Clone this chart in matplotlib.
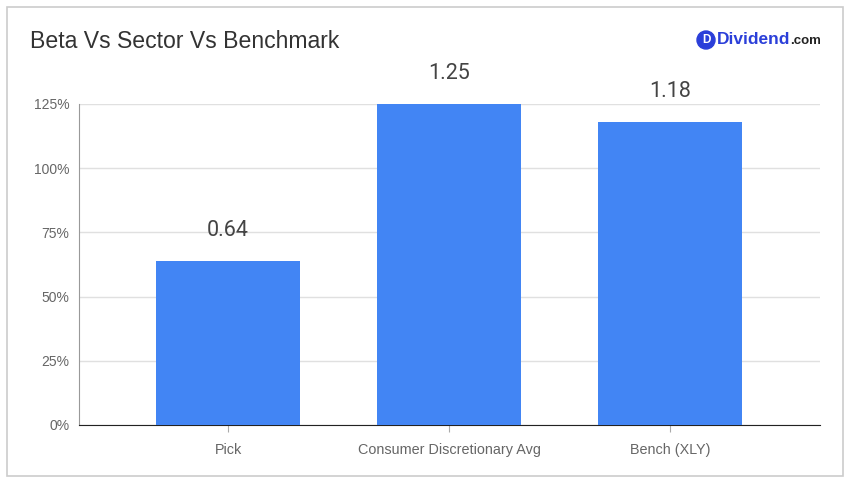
import matplotlib.pyplot as plt
from matplotlib.patches import Rectangle, Ellipse
from matplotlib.ticker import FuncFormatter

categories = ["Pick", "Consumer Discretionary Avg", "Bench (XLY)"]
beta = [0.64, 1.25, 1.18]
yticks = [0, 0.25, 0.5, 0.75, 1.0, 1.25]

plt.rcParams['font.family'] = ['Liberation Sans', 'DejaVu Sans']

fig = plt.figure(figsize=(8.51, 4.83), dpi=100)
W, H = 851, 483

# outer frame
fig.patches.append(Rectangle((7 / W, 1 - 476 / H), 836 / W, 469 / H,
                             transform=fig.transFigure, fill=False,
                             edgecolor='#cccccc', linewidth=1.2))

ax = fig.add_axes([79 / W, 1 - 425 / H, 741 / W, 321 / H])
x = range(len(categories))
ax.bar(x, beta, width=0.65, color='#4285F4', zorder=3)

for xi, v in zip(x, beta):
    ax.annotate(f"{v:.2f}", (xi, v), xytext=(0, 22), textcoords='offset points',
                ha='center', va='center', fontsize=15.5, color='#444444',
                family='Roboto', annotation_clip=False)

ax.set_xlim(-0.675, 2.68)
ax.set_ylim(0, 1.25)
ax.set_yticks(yticks)
ax.yaxis.set_major_formatter(FuncFormatter(lambda v, p: f"{v * 100:.0f}%"))
ax.set_xticks(list(x))
ax.set_xticklabels(categories)
ax.grid(axis='y', color='#e0e0e0', linewidth=1, zorder=0)
ax.tick_params(axis='y', length=0, pad=7, labelsize=10, labelcolor='#666666')
ax.tick_params(axis='x', length=5, color='#aaaaaa', pad=8, labelsize=10.4,
               labelcolor='#666666')
for s in ['top', 'right']:
    ax.spines[s].set_visible(False)
ax.spines['left'].set_color('#999999')
ax.spines['bottom'].set_color('#222222')

fig.text(30 / W, 1 - 42 / H, "Beta Vs Sector Vs Benchmark", fontsize=16.6,
         color='#333333', va='center', ha='left')

# logo
fig.patches.append(Ellipse((706 / W, 1 - 40 / H), 18 / W, 18 / H,
                           transform=fig.transFigure, color='#2b3fd9'))
fig.text(706 / W, 1 - 40 / H, "D", color='white', fontsize=8.5, fontweight='bold',
         ha='center', va='center')
fig.text(717 / W, 1 - 40 / H, "Dividend", color='#2b3fd9', fontsize=12.5,
         fontweight='bold', ha='left', va='center')
fig.text(790 / W, 1 - 41 / H, ".com", color='#222222', fontsize=9.5,
         fontweight='bold', ha='left', va='center')

fig.savefig("out.png", dpi=100)
